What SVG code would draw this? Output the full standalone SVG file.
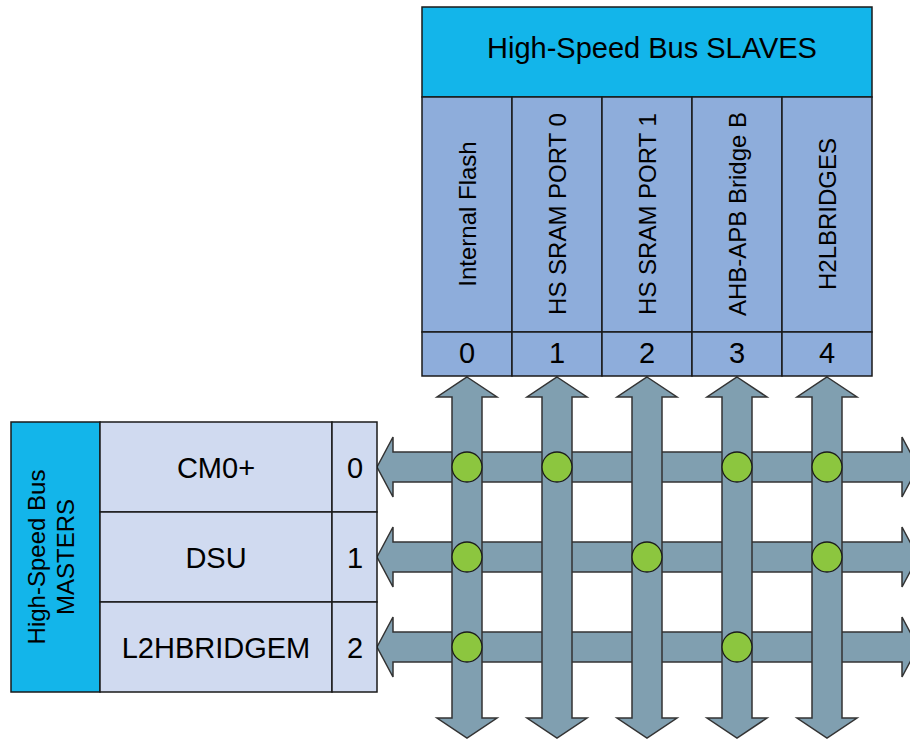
<svg xmlns="http://www.w3.org/2000/svg" width="910" height="740" viewBox="0 0 910 740">
<style>
.hdr{fill:#13B5EA;stroke:#1a1a1a;stroke-width:1.5}
.sl{fill:#8EADDB;stroke:#1a1a1a;stroke-width:1.5}
.ms{fill:#D0DAF0;stroke:#1a1a1a;stroke-width:1.5}
.t{font-family:"Liberation Sans",Arial,sans-serif;fill:#000;text-anchor:middle}
.big{font-size:29px}
.mid{font-size:24px}
.arr{fill:#809FB0;stroke:#333;stroke-width:1.5;stroke-linejoin:miter}
.dot{fill:#8CC63F;stroke:#1a1a1a;stroke-width:1.3}
</style>
<rect width="910" height="740" fill="#fff"/>

<g id="connectors">
  <g id="row-buses">
    <polygon class="arr" points="377,467 393,437 393,452 902,452 902,437 918,467 902,497 902,482 393,482 393,497"/>
    <polygon class="arr" points="377,557 393,527 393,542 902,542 902,527 918,557 902,587 902,572 393,572 393,587"/>
    <polygon class="arr" points="377,647 393,617 393,632 902,632 902,617 918,647 902,677 902,662 393,662 393,677"/>
  </g>
  <g id="col-buses">
    <polygon class="arr" points="467,377 497,397 482,397 482,718 497,718 467,738 437,718 452,718 452,397 437,397"/>
    <polygon class="arr" points="557,377 587,397 572,397 572,718 587,718 557,738 527,718 542,718 542,397 527,397"/>
    <polygon class="arr" points="647,377 677,397 662,397 662,718 677,718 647,738 617,718 632,718 632,397 617,397"/>
    <polygon class="arr" points="737,377 767,397 752,397 752,718 767,718 737,738 707,718 722,718 722,397 707,397"/>
    <polygon class="arr" points="827,377 857,397 842,397 842,718 857,718 827,738 797,718 812,718 812,397 797,397"/>
  </g>
  <g id="connections">
    <circle class="dot" cx="467" cy="467" r="15"/>
    <circle class="dot" cx="557" cy="467" r="15"/>
    <circle class="dot" cx="737" cy="467" r="15"/>
    <circle class="dot" cx="827" cy="467" r="15"/>
    <circle class="dot" cx="467" cy="557" r="15"/>
    <circle class="dot" cx="647" cy="557" r="15"/>
    <circle class="dot" cx="827" cy="557" r="15"/>
    <circle class="dot" cx="467" cy="647" r="15"/>
    <circle class="dot" cx="737" cy="647" r="15"/>
  </g>
</g>

<g id="slaves-header">
  <rect class="hdr" x="422" y="7" width="450" height="90"/>
  <text class="t big" x="652" y="58">High-Speed Bus SLAVES</text>
</g>
<g id="slave-0">
  <rect class="sl" x="422" y="97" width="90" height="235"/>
  <rect class="sl" x="422" y="332" width="90" height="44"/>
  <text class="t mid" transform="translate(476,214) rotate(-90)">Internal Flash</text>
  <text class="t big" x="467" y="363">0</text>
</g>
<g id="slave-1">
  <rect class="sl" x="512" y="97" width="90" height="235"/>
  <rect class="sl" x="512" y="332" width="90" height="44"/>
  <text class="t mid" transform="translate(566,214) rotate(-90)">HS SRAM PORT 0</text>
  <text class="t big" x="557" y="363">1</text>
</g>
<g id="slave-2">
  <rect class="sl" x="602" y="97" width="90" height="235"/>
  <rect class="sl" x="602" y="332" width="90" height="44"/>
  <text class="t mid" transform="translate(656,214) rotate(-90)">HS SRAM PORT 1</text>
  <text class="t big" x="647" y="363">2</text>
</g>
<g id="slave-3">
  <rect class="sl" x="692" y="97" width="90" height="235"/>
  <rect class="sl" x="692" y="332" width="90" height="44"/>
  <text class="t mid" transform="translate(746,214) rotate(-90)">AHB-APB Bridge B</text>
  <text class="t big" x="737" y="363">3</text>
</g>
<g id="slave-4">
  <rect class="sl" x="782" y="97" width="90" height="235"/>
  <rect class="sl" x="782" y="332" width="90" height="44"/>
  <text class="t mid" transform="translate(836,214) rotate(-90)">H2LBRIDGES</text>
  <text class="t big" x="827" y="363">4</text>
</g>

<g id="masters-header">
  <rect class="hdr" x="11" y="422" width="89" height="270"/>
  <text class="t mid" transform="translate(45,557) rotate(-90)">High-Speed Bus</text>
  <text class="t mid" transform="translate(74,557) rotate(-90)">MASTERS</text>
</g>
<g id="master-0">
  <rect class="ms" x="100" y="422" width="232" height="90"/>
  <rect class="ms" x="332" y="422" width="45" height="90"/>
  <text class="t big" x="216" y="478">CM0+</text>
  <text class="t big" x="355" y="478">0</text>
</g>
<g id="master-1">
  <rect class="ms" x="100" y="512" width="232" height="90"/>
  <rect class="ms" x="332" y="512" width="45" height="90"/>
  <text class="t big" x="216" y="568">DSU</text>
  <text class="t big" x="355" y="568">1</text>
</g>
<g id="master-2">
  <rect class="ms" x="100" y="602" width="232" height="90"/>
  <rect class="ms" x="332" y="602" width="45" height="90"/>
  <text class="t big" x="216" y="658">L2HBRIDGEM</text>
  <text class="t big" x="355" y="658">2</text>
</g>
</svg>
